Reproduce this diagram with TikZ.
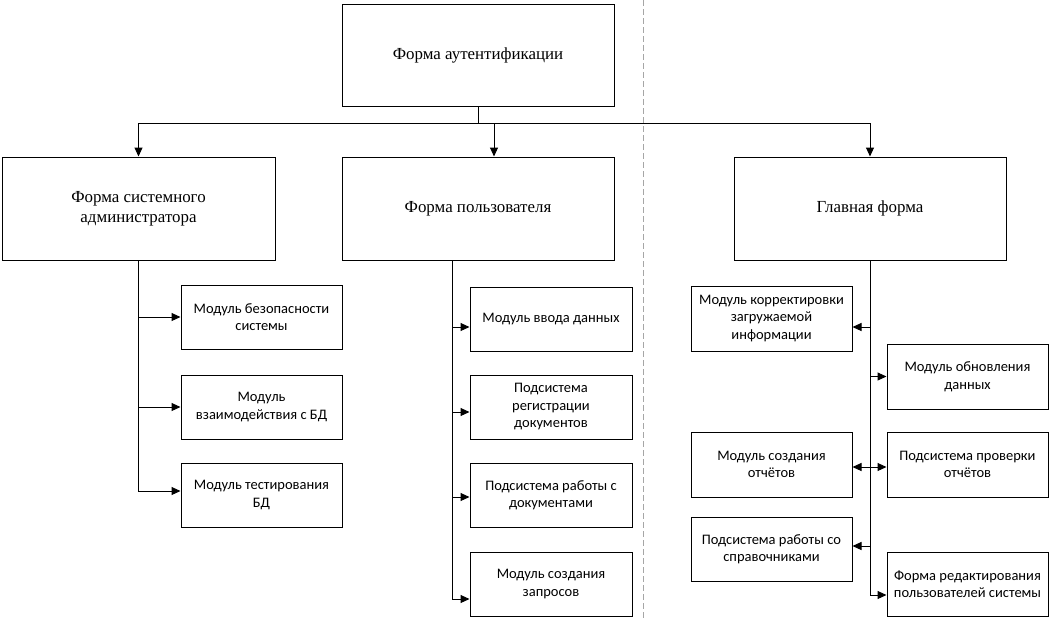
\documentclass[tikz,border=0pt]{standalone}
\usepackage{fontspec}
\setmainfont{Liberation Serif}
\newfontfamily\calfont{Carlito}
\usetikzlibrary{arrows.meta}
\tikzset{
  big/.style={draw, line width=1pt, minimum width=272pt, minimum height=102pt, inner sep=0pt, align=center, font=\fontsize{16.9}{20}\selectfont},
  small/.style={draw, line width=1pt, minimum width=161pt, minimum height=64pt, inner sep=0pt, align=center, font=\calfont\fontsize{14.5}{17.5}\selectfont},
  arr/.style={line width=1pt, -{Triangle[length=9pt,width=8pt]}},
  ln/.style={line width=1pt},
  sep/.style={draw=black!35, line width=1pt, dash pattern=on 6pt off 3pt}
}
\begin{document}
\begin{tikzpicture}[x=1pt,y=-1pt]
\useasboundingbox (0,0) rectangle (1052,619);
\draw[sep] (643,0) -- (643,619);

\node[big] (top) at (478,55) {Форма аутентификации};
\node[big, minimum width=273pt, minimum height=103pt] (fsa) at (138.5,208.5) {Форма системного\\администратора};
\node[big, minimum height=103pt] (fp) at (478,208.5) {Форма пользователя};
\node[big, minimum height=103pt] (fg) at (870,208.5) {Главная форма};

\node[small] (a1) at (261.5,317) {Модуль безопасности\\системы};
\node[small] (a2) at (261.5,407) {Модуль\\взаимодействия с БД};
\node[small] (a3) at (261.5,495) {Модуль тестирования\\БД};

\node[small, minimum width=162pt] (b1) at (551,319) {Модуль ввода данных};
\node[small, minimum width=162pt] (b2) at (551,407) {Подсистема\\регистрации\\документов};
\node[small, minimum width=162pt] (b3) at (551,495) {Подсистема работы с\\документами};
\node[small, minimum width=162pt] (b4) at (551,584) {Модуль создания\\запросов};

\node[small, minimum height=65pt] (c1) at (771.5,318.5) {Модуль корректировки\\загружаемой\\информации};
\node[small, minimum height=65pt] (c2) at (771.5,464.5) {Модуль создания\\отчётов};
\node[small] (c3) at (771.5,549) {Подсистема работы со\\справочниками};

\node[small, minimum height=65pt] (d1) at (967.5,376.5) {Модуль обновления\\данных};
\node[small, minimum height=65pt] (d2) at (967.5,464.5) {Подсистема проверки\\отчётов};
\node[small] (d3) at (967.5,584) {Форма редактирования\\пользователей системы};

% top level
\draw[ln] (top.south) -- ++(0,17) coordinate (j);
\draw[arr] (j) -| (fsa.north);
\draw[arr] (j) -| (fg.north);
\draw[arr] ([xshift=16pt]fp.north |- j) -- ([xshift=16pt]fp.north);

% left column
\draw[arr] (fsa.south) |- (a1.west);
\draw[arr] (fsa.south) |- (a2.west);
\draw[arr] (fsa.south) |- ([yshift=4pt]a3.west);

% middle column
\coordinate (ms) at ([xshift=-26pt]fp.south);
\draw[arr] (ms) |- ([yshift=-8pt]b1.west);
\draw[arr] (ms) |- ([yshift=-5pt]b2.west);
\draw[arr] (ms) |- ([yshift=-2pt]b3.west);
\draw[arr] (ms) |- ([yshift=-15pt]b4.west);

% right column
\draw[arr] (fg.south) |- ([yshift=-8.5pt]c1.east);
\draw[arr] (fg.south) |- (d1.west);
\draw[arr] (fg.south) |- ([yshift=-2.5pt]c2.east);
\draw[arr] (fg.south) |- ([yshift=-2.5pt]d2.west);
\draw[arr] (fg.south) |- ([yshift=3pt]c3.east);
\draw[arr] (fg.south) |- ([yshift=-11pt]d3.west);
\end{tikzpicture}
\end{document}
